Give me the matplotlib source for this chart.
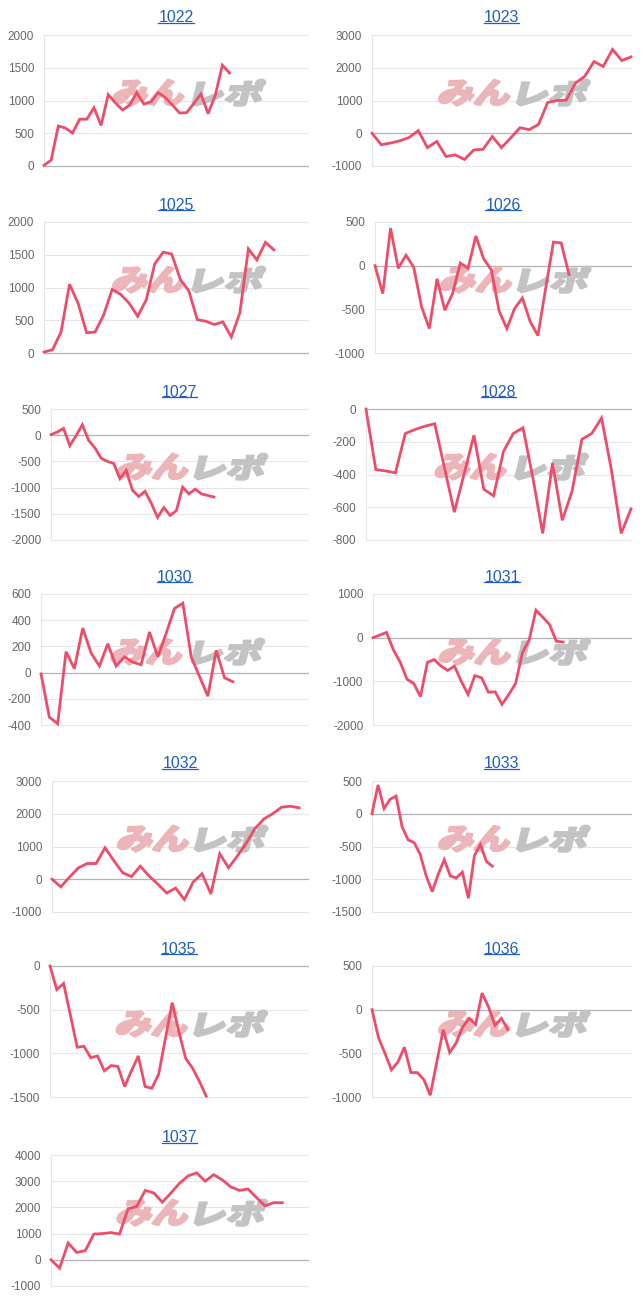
import matplotlib
matplotlib.use('Agg')
import matplotlib.pyplot as plt
import matplotlib.transforms as mtransforms
from matplotlib.textpath import TextPath
from matplotlib.patches import PathPatch
from matplotlib.font_manager import FontProperties
from matplotlib.lines import Line2D

plt.rcParams['axes.unicode_minus'] = False
plt.rcParams['font.family'] = ['Liberation Sans', 'DejaVu Sans']

# ---------------- data ----------------
titles = ['1022', '1023', '1025', '1026', '1027', '1028', '1030',
          '1031', '1032', '1033', '1035', '1036', '1037']

v1022 = [10, 90, 610, 580, 505, 715, 715, 890, 620, 1090, 965, 855, 930, 1120,
         945, 980, 1120, 1045, 930, 810, 815, 955, 1100, 800, 1080, 1540, 1420]
v1023 = [0, -350, -300, -230, -130, 80, -440, -250, -710, -660, -800, -510, -490,
         -100, -440, -140, 170, 110, 270, 940, 1000, 1010, 1530, 1740, 2190, 2040,
         2560, 2220, 2330]
v1025 = [15, 50, 320, 1050, 760, 310, 320, 580, 970, 895, 760, 560, 810, 1360,
         1540, 1510, 1125, 950, 510, 485, 435, 475, 245, 615, 1590, 1420, 1690, 1575]
v1026 = [0, -320, 430, -30, 120, -20, -470, -720, -150, -510, -320, 30, -30, 340,
         80, -50, -520, -720, -490, -370, -640, -800, -260, 270, 260, -100]
v1027 = [10, 60, 130, -200, -10, 200, -100, -240, -440, -500, -540, -830, -670,
         -1050, -1170, -1070, -1300, -1570, -1380, -1530, -1440, -990, -1120, -1030,
         -1120, -1150, -1180]
v1028 = [0, -370, -378, -390, -150, -125, -105, -90, -360, -630, -395, -160, -490,
         -530, -260, -150, -115, -420, -760, -330, -680, -500, -185, -150, -55, -370,
         -760, -610]
v1030 = [-10, -340, -390, 160, 30, 340, 150, 50, 220, 50, 120, 80, 60, 310, 120,
         300, 490, 530, 120, -30, -180, 170, -40, -70]
v1031 = [0, 60, 120, -280, -560, -950, -1050, -1350, -570, -500, -650, -750, -650,
         -1000, -1300, -870, -920, -1250, -1240, -1530, -1300, -1050, -350, -50, 630,
         470, 300, -80, -100]
v1032 = [0, -230, 70, 350, 480, 480, 960, 570, 200, 80, 400, 100, -150, -420, -270,
         -620, -80, 170, -450, 780, 350, 710, 1100, 1550, 1840, 2000, 2200, 2230, 2180]
v1033 = [0, 440, 80, 220, 270, -200, -400, -440, -620, -950, -1190, -920, -700,
         -950, -980, -890, -1290, -640, -470, -730, -800]
v1035 = [0, -270, -200, -560, -930, -920, -1050, -1030, -1200, -1140, -1150, -1380,
         -1200, -1030, -1380, -1400, -1240, -830, -420, -760, -1060, -1170, -1320, -1490]
v1036 = [0, -320, -500, -690, -600, -430, -720, -720, -800, -980, -600, -230, -490,
         -380, -200, -100, -170, 190, 30, -180, -100, -230]
v1037 = [0, -320, 640, 280, 350, 980, 1000, 1040, 980, 1950, 2030, 2650, 2550, 2200,
         2550, 2920, 3200, 3320, 3000, 3250, 3050, 2780, 2650, 2700, 2370, 2060, 2180,
         2180]

series = [v1022, v1023, v1025, v1026, v1027, v1028, v1030,
          v1031, v1032, v1033, v1035, v1036, v1037]

# number of x categories (labels) on each chart
n_labels = [38, 29, 32, 34, 42, 28, 33, 39, 30, 44, 39, 41, 31]

# y tick labels
yticks = [
    [0, 500, 1000, 1500, 2000],
    [-1000, 0, 1000, 2000, 3000],
    [0, 500, 1000, 1500, 2000],
    [-1000, -500, 0, 500],
    [-2000, -1500, -1000, -500, 0, 500],
    [-800, -600, -400, -200, 0],
    [-400, -200, 0, 200, 400, 600],
    [-2000, -1000, 0, 1000],
    [-1000, 0, 1000, 2000, 3000],
    [-1500, -1000, -500, 0, 500],
    [-1500, -1000, -500, 0],
    [-1000, -500, 0, 500],
    [-1000, 0, 1000, 2000, 3000, 4000],
]

# ---------------- layout (pixels) ----------------
W, H = 643, 1297
DPI = 100
lefts = [44, 372, 44, 375, 51, 366, 41, 373, 52, 372, 50, 372, 51]
rights = [308, 631]
row_tops = [35, 222, 409, 594, 781, 966, 1155]
plot_h = 131

LINE_COLOR = '#ee4d6a'
GRID_COLOR = '#e6e6e6'
ZERO_COLOR = '#b3b3b3'
TICK_COLOR = '#666666'
TITLE_COLOR = '#1f5fbf'

fig = plt.figure(figsize=(W / DPI, H / DPI), dpi=DPI)

cjk = FontProperties(family='Noto Sans CJK JP', weight='black')


def add_mark(ax, text, color, cx, cy, w_px, h_px):
    tp = TextPath((0, 0), text, size=100, prop=cjk)
    bb = tp.get_extents()
    tr = (mtransforms.Affine2D()
          .translate(-bb.x0 - bb.width / 2, -bb.y0 - bb.height / 2)
          .scale(w_px / bb.width, h_px / bb.height)
          .skew_deg(14, 0)
          + mtransforms.ScaledTranslation(cx, cy, ax.transAxes))
    p = PathPatch(tp, transform=tr, fc=color, ec=color, lw=1.6,
                  joinstyle='round', zorder=1)
    ax.add_artist(p)


axes = []
for i, (title, vals) in enumerate(zip(titles, series)):
    row, col = divmod(i, 2)
    left = lefts[i]
    right = rights[col]
    top = row_tops[row]
    ax = fig.add_axes([left / W, (H - top - plot_h) / H,
                       (right - left) / W, plot_h / H])
    ax.plot(range(len(vals)), vals, color=LINE_COLOR, lw=2.0, zorder=3,
            clip_on=False, solid_joinstyle='miter')
    ax.set_xlim(0, n_labels[i] - 1)
    yt = yticks[i]
    ax.set_ylim(yt[0], yt[-1])
    ax.set_yticks(yt)
    ax.set_yticklabels([str(t) for t in yt])
    ax.set_xticks([])
    for t in yt:
        ax.axhline(t, color=ZERO_COLOR if t == 0 else GRID_COLOR,
                   lw=0.9 if t == 0 else 0.8, zorder=0.5, clip_on=False)
    ax.tick_params(axis='y', length=0, pad=7, labelsize=8.5,
                   labelcolor=TICK_COLOR)
    for s in ['top', 'right', 'bottom']:
        ax.spines[s].set_visible(False)
    ax.spines['left'].set_color(GRID_COLOR)
    ax.spines['left'].set_linewidth(0.8)
    ax.set_facecolor('none')
    # watermark
    add_mark(ax, 'みん', '#ecb5ba', 0.40, 0.56, 70, 26)
    add_mark(ax, 'レポ', '#c3c3c3', 0.70, 0.56, 68, 26)
    ax.set_title(title, color=TITLE_COLOR, fontsize=11.5, pad=9)
    axes.append(ax)

fig.canvas.draw()
renderer = fig.canvas.get_renderer()
for ax in axes:
    bb = ax.title.get_window_extent(renderer)
    y = bb.y0 + 2.5
    fig.add_artist(Line2D([bb.x0, bb.x1], [y, y], color=TITLE_COLOR, lw=0.9,
                          transform=mtransforms.IdentityTransform()))

fig.savefig('out.png', dpi=DPI)
